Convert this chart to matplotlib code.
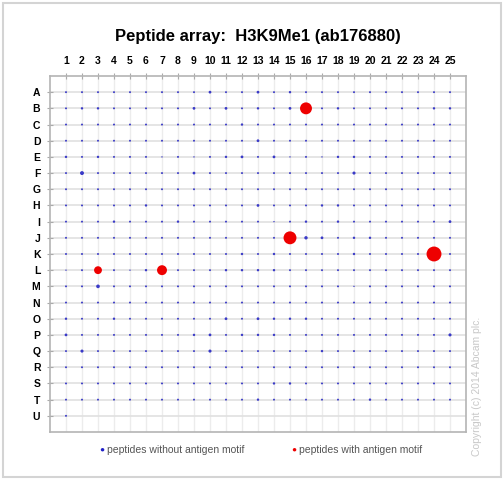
import numpy as np
import matplotlib
matplotlib.use('Agg')
import matplotlib.pyplot as plt
from matplotlib.patches import Rectangle

plt.rcParams['font.family'] = ['Liberation Sans', 'DejaVu Sans']

title = 'Peptide array:  H3K9Me1 (ab176880)'
row_labels = list('ABCDEFGHIJKLMNOPQRSTU')
col_labels = [str(c) for c in range(1, 26)]

# relative spot signal, peptides without antigen motif (rows A..U, cols 1..25)
signal = [
    [1, 1, 1, 1, 1, 1, 1, 1, 1, 2, 1, 1, 2, 1, 1.5, 1, 1, 1, 1, 1, 1, 1, 1, 1, 1],      # A
    [1, 1.5, 1.5, 1, 1, 1, 1, 1, 2, 1, 2, 1, 1.5, 1, 2, 0, 1, 1.5, 1, 1, 1, 1, 1, 1.5, 1.5],  # B
    [1, 1, 1, 1, 1, 1, 1, 1, 1, 1, 1, 1.5, 1, 1, 1, 1, 1, 1, 1, 1, 1, 1, 1, 1, 1],      # C
    [1, 1, 1, 1, 1, 1, 1, 1, 1, 1, 1, 1, 2, 1, 1, 1, 1, 1, 1, 1, 1, 1, 1, 1, 1],        # D
    [1.5, 1, 1.5, 1, 1, 1, 0.5, 1, 0.5, 1, 1.5, 2, 1, 2, 0.5, 1, 0.5, 1.5, 1.5, 1, 1, 1, 1, 1, 1],  # E
    [1, 4, 1, 1, 1, 1, 1, 1, 2, 1, 1, 1, 1, 1, 1, 1, 1, 1, 2.5, 1, 1, 1, 1, 1, 1],      # F
    [1, 1, 1, 1, 1, 1, 1, 1, 1, 1, 1, 1, 1, 1, 1, 1, 1, 1, 1, 1, 1, 1, 1, 1, 1],        # G
    [1, 1, 1, 1, 1, 1.5, 1, 1, 1, 1, 1, 1, 2, 1, 1, 1, 1.5, 1.5, 1, 1, 1, 1, 1, 1, 1],  # H
    [1, 1, 1, 1.5, 1, 1, 1, 1.5, 1, 1, 1, 1, 1, 0.5, 1, 1.5, 1, 1.5, 1, 1, 1, 1, 1, 1, 2],  # I
    [1, 1, 1, 1, 1, 1, 1, 1, 1, 1, 1, 1, 1, 1, 0, 3, 2, 1, 1.5, 1.5, 1, 1, 1, 1, 1],    # J
    [1, 1, 1, 1, 1, 1, 1, 1, 1, 1, 1, 1.5, 1, 1.5, 1, 1, 1, 1, 1.5, 1, 1, 1, 1, 0, 1],  # K
    [0.5, 1, 0, 1, 0.5, 1.5, 0, 1, 1, 1, 1.5, 1.5, 1.5, 1.5, 1, 1, 1, 1, 1, 1, 1, 1, 1, 1, 1],  # L
    [1, 1, 3.5, 1, 1, 1, 1, 1, 1, 1, 1, 1, 1, 1, 1, 1, 1, 1, 0.5, 1, 1, 1, 1, 1, 1],    # M
    [1, 1, 1, 1, 1, 1, 1, 1, 1, 1, 1, 1, 1, 1, 1, 1, 1, 1, 1, 1, 1, 1, 1, 1, 1],        # N
    [1.5, 1, 1, 1.5, 1, 1, 1, 1, 1, 1, 2, 1, 2, 1.5, 1.5, 1.5, 1, 1, 1, 1, 1, 1, 1, 1, 1],  # O
    [2, 1, 1, 1, 1, 1, 1, 1, 1.5, 2, 1, 1.5, 1.5, 1.5, 1, 1, 1, 1, 1, 1, 1, 1, 1, 1, 2.5],  # P
    [1, 2.5, 1, 1, 1, 1, 1, 1, 1, 2.5, 1, 1, 1, 1, 1, 1, 1.5, 1, 1, 1, 1, 1, 1, 1, 1],  # Q
    [1, 1, 1, 1, 1, 1, 1, 1, 1, 1, 1, 1, 1, 1, 1, 1, 1, 1, 1, 1, 1, 1, 1, 1, 1],        # R
    [1, 1, 1, 1, 1, 1, 1, 1, 1, 1, 1, 1, 1, 1.5, 1.5, 1, 1, 1, 1, 1, 1, 1, 1, 1, 1],    # S
    [1, 1, 1, 1, 1, 1, 1, 1, 1, 1, 1, 1, 1.5, 1, 1, 1, 1, 1, 1, 1.5, 1, 1, 1, 1, 1],    # T
    [1],                                                                                  # U
]

# peptides with antigen motif: row, column, signal
motif_rows = ['B', 'J', 'K', 'L', 'L']
motif_cols = [16, 15, 24, 3, 7]
motif_signal = [23, 27, 36, 10, 16]

fig = plt.figure(figsize=(5.04, 4.8), dpi=100)
fig.patches.append(Rectangle((0.006, 0.006), 0.988, 0.988, transform=fig.transFigure,
                             fill=False, edgecolor='#d4d4d4', linewidth=1.5))
ax = fig.add_axes([0.0992, 0.1, 0.8254, 0.7417])

bx, by, bs = [], [], []
for r, vals in enumerate(signal):
    for c, v in enumerate(vals):
        if v > 0:
            bx.append(c + 1)
            by.append(r + 1)
            bs.append(v)
ax.scatter(bx, by, s=np.array(bs) * 2.0, color='#3a3ac8', linewidths=0, zorder=3)

mx = motif_cols
my = [row_labels.index(r) + 1 for r in motif_rows]
ax.scatter(mx, my, s=np.array(motif_signal) * 3.2, color='#ee0000', linewidths=0, zorder=4)

ax.set_xlim(0, 26)
ax.set_ylim(22, 0)
ax.set_xticks(range(1, 26))
ax.set_xticklabels(col_labels, fontsize=7.5, fontweight='bold')
ax.set_yticks(range(1, 22))
ax.set_yticklabels(row_labels, fontsize=7.5, fontweight='bold')
ax.xaxis.tick_top()
ax.tick_params(axis='x', direction='inout', length=4, color='#aaaaaa', pad=5)
ax.tick_params(axis='y', direction='inout', length=4, color='#aaaaaa', pad=5)
ax.grid(True, axis='x', color='#ececec', linewidth=1.0, zorder=0)
ax.grid(True, axis='y', color='#e0e0e0', linewidth=1.2, zorder=0)
ax.set_axisbelow(True)
for sp in ax.spines.values():
    sp.set_color('#b4b4b4')
    sp.set_linewidth(1.2)

fig.text(0.512, 0.923, title, ha='center', va='center', fontsize=12, fontweight='bold')

# legend
fig.text(0.202, 0.062, '\u25CF', color='#2020c8', fontsize=6, ha='center', va='center')
fig.text(0.212, 0.062, 'peptides without antigen motif', color='#555555', fontsize=7.5,
         ha='left', va='center')
fig.text(0.583, 0.062, '\u25CF', color='#ee0000', fontsize=6, ha='center', va='center')
fig.text(0.594, 0.062, 'peptides with antigen motif', color='#555555', fontsize=7.5,
         ha='left', va='center')

fig.text(0.947, 0.195, 'Copyright (c) 2014 Abcam plc.', color='#c8c8c8', fontsize=7.5,
         rotation=90, ha='center', va='center')

fig.savefig('out.png', dpi=100)
